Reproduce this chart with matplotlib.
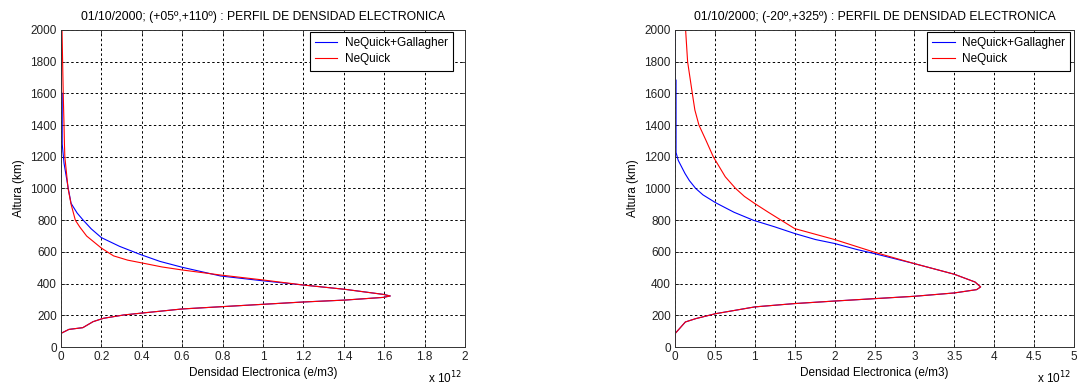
import matplotlib
matplotlib.use("Agg")
import matplotlib.pyplot as plt
from matplotlib.ticker import FuncFormatter

plt.rcParams['font.family'] = ['Liberation Sans', 'DejaVu Sans']

# ---------------- data (density in units of 1e12 e/m3, altitude in km) ----------------
titles = ["01/10/2000; (+05º,+110º) : PERFIL DE DENSIDAD ELECTRONICA",
          "01/10/2000; (-20º,+325º) : PERFIL DE DENSIDAD ELECTRONICA"]
series_names = ["NeQuick+Gallagher", "NeQuick"]
xlabel = "Densidad Electronica (e/m3)"
ylabel = "Altura (km)"

# Left panel
l_nq_h = [0, 86, 111, 122, 160, 181, 202, 216, 240, 254, 269, 284, 296, 313, 322,
          332, 364, 391, 423, 454, 486, 505, 528, 548, 575, 624, 700, 757, 800, 900,
          1000, 1200, 1280, 1400, 1600, 2000]
l_nq_n = [0.0, 0.0, 0.039, 0.108, 0.159, 0.21, 0.31, 0.415, 0.60, 0.79, 0.995, 1.2,
          1.405, 1.595, 1.63, 1.595, 1.405, 1.2, 1.0, 0.79, 0.60, 0.50, 0.41, 0.33,
          0.26, 0.20, 0.127, 0.093, 0.071, 0.05, 0.035, 0.019, 0.017, 0.015, 0.011,
          0.005]
l_gal_h = [0, 86, 111, 122, 160, 181, 202, 216, 240, 254, 269, 284, 296, 313, 322,
           332, 364, 391, 418, 448, 503, 540, 585, 635, 690, 745, 800, 845, 906,
           1000, 1159, 1280, 1600, 1610, 2000]
l_gal_n = [0.0, 0.0, 0.039, 0.108, 0.159, 0.21, 0.31, 0.415, 0.60, 0.79, 0.995, 1.2,
           1.405, 1.595, 1.63, 1.595, 1.405, 1.2, 0.997, 0.79, 0.60, 0.49, 0.39, 0.29,
           0.20, 0.15, 0.11, 0.08, 0.05, 0.036, 0.015, 0.006, 0.006, 0.0, 0.0]

# Right panel
r_nq_h = [0, 84, 158, 179, 210, 253, 274, 290, 305, 320, 341, 362, 379, 410, 459,
          526, 598, 678, 747, 800, 850, 905, 950, 1000, 1074, 1200, 1305, 1400, 1495,
          1600, 1800, 2000]
r_nq_n = [0.0, 0.0, 0.13, 0.26, 0.507, 1.0, 1.5, 2.0, 2.5, 3.0, 3.5, 3.78, 3.83,
          3.76, 3.5, 3.0, 2.5, 2.0, 1.5, 1.33, 1.17, 1.0, 0.87, 0.76, 0.63, 0.48,
          0.387, 0.30, 0.249, 0.217, 0.158, 0.133]
r_gal_h = [0, 84, 158, 179, 210, 253, 274, 290, 305, 320, 341, 362, 379, 410, 459,
           526, 589, 615, 653, 678, 716, 758, 800, 850, 910, 960, 1000, 1050, 1095,
           1178, 1227, 1684, 1690, 2000]
r_gal_n = [0.0, 0.0, 0.13, 0.26, 0.507, 1.0, 1.5, 2.0, 2.5, 3.0, 3.5, 3.78, 3.83,
           3.76, 3.5, 3.0, 2.5, 2.28, 2.0, 1.76, 1.5, 1.25, 0.98, 0.74, 0.51, 0.35,
           0.26, 0.18, 0.125, 0.04, 0.013, 0.013, 0.0, 0.0]

SCALE = 1e12
panels = [
    dict(gal=(l_gal_n, l_gal_h), nq=(l_nq_n, l_nq_h), xmax=2.0, xstep=0.2),
    dict(gal=(r_gal_n, r_gal_h), nq=(r_nq_n, r_nq_h), xmax=5.0, xstep=0.5),
]

W, H = 1082, 385
fig = plt.figure(figsize=(W / 100, H / 100), dpi=100)
fig.patch.set_facecolor("white")
rects = [[61 / W, (H - 347) / H, 404 / W, 317 / H],
         [675 / W, (H - 347) / H, 399 / W, 317 / H]]
leg_anchor = [(0.970, 0.994), (0.990, 0.994)]

for i, (p, rect) in enumerate(zip(panels, rects)):
    ax = fig.add_axes(rect)
    gx = [v * SCALE for v in p['gal'][0]]
    nx = [v * SCALE for v in p['nq'][0]]
    ax.plot(gx, p['gal'][1], color='#0000ff', lw=0.8, label=series_names[0])
    ax.plot(nx, p['nq'][1], color='#ff0000', lw=0.8, label=series_names[1])
    ax.set_xlim(0, p['xmax'] * SCALE)
    ax.set_ylim(0, 2000)
    nt = int(round(p['xmax'] / p['xstep']))
    ax.set_xticks([k * p['xstep'] * SCALE for k in range(nt + 1)])
    ax.set_yticks(range(0, 2001, 200))
    ax.xaxis.set_major_formatter(FuncFormatter(lambda v, pos: f"{v/SCALE:g}"))
    ax.grid(True, color='black', linestyle=(0, (2.5, 2.5)), linewidth=0.7)
    ax.tick_params(direction='in', length=3, width=0.6, labelsize=8.5, pad=3,
                   top=True, right=True, colors='#222222')
    for s in ax.spines.values():
        s.set_linewidth(0.7)
        s.set_color('#333333')
    ax.set_title(titles[i], fontsize=8.7, pad=7)
    ax.set_xlabel(xlabel, fontsize=8.5, labelpad=3)
    ax.set_ylabel(ylabel, fontsize=8.5, labelpad=4)
    leg = ax.legend(loc='upper right', bbox_to_anchor=leg_anchor[i], fontsize=8.5,
                    fancybox=False, framealpha=1, edgecolor='black',
                    borderaxespad=0.0, handlelength=1.9, handletextpad=0.6,
                    borderpad=0.45, labelspacing=0.35)
    leg.get_frame().set_linewidth(0.8)
    ax.text(0.993, -(383 - 347) / 317, r"x 10$^{12}$", transform=ax.transAxes,
            ha='right', va='baseline', fontsize=8.5)

fig.savefig("out.png", dpi=100)
